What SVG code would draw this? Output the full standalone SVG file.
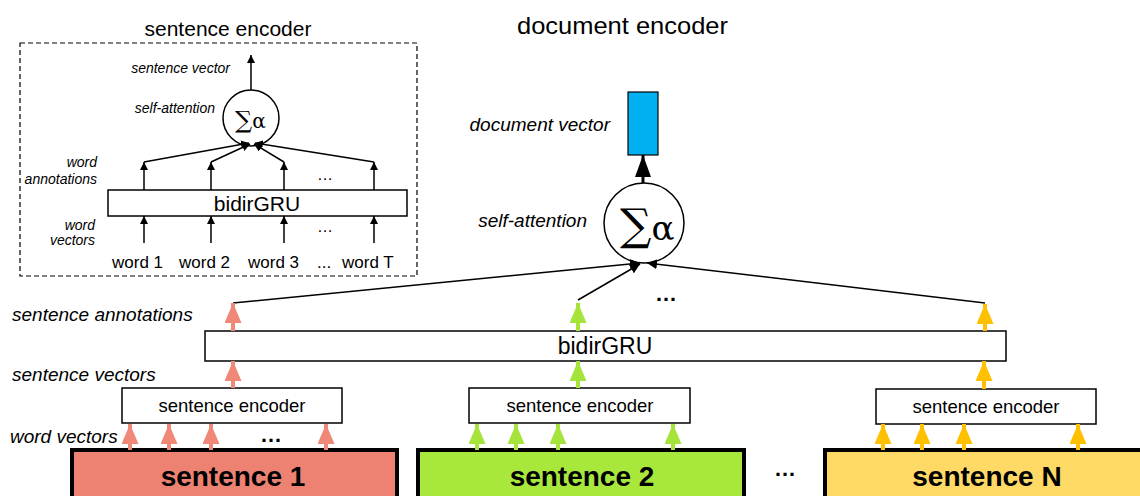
<svg xmlns="http://www.w3.org/2000/svg" width="1140" height="496" viewBox="0 0 1140 496">
<style>
.t{font-family:"Liberation Sans",Arial,sans-serif;fill:#000}
.i{font-family:"Liberation Sans",Arial,sans-serif;font-style:italic;fill:#000}
.box{fill:#fff;stroke:#000;stroke-width:1.5}
.ln{stroke:#000;stroke-width:1.5;fill:none}
.sig{font-family:"DejaVu Serif","Liberation Serif",serif;fill:#000}
.sent{stroke:#000;stroke-width:4}
.b{font-family:"Liberation Sans",Arial,sans-serif;font-weight:bold;font-size:28px;text-anchor:middle}
</style>
<defs>
<marker id="ah" viewBox="0 0 10 10" refX="10" refY="5" markerWidth="8" markerHeight="8" markerUnits="userSpaceOnUse" orient="auto"><path d="M0,0L10,5L0,10z" fill="#000"/></marker>
<marker id="ah2" viewBox="0 0 10 10" refX="10" refY="5" markerWidth="10" markerHeight="10" markerUnits="userSpaceOnUse" orient="auto"><path d="M0,0L10,5L0,10z" fill="#000"/></marker>
<marker id="big" viewBox="0 0 10 10" refX="10" refY="5" markerWidth="22" markerHeight="16" markerUnits="userSpaceOnUse" orient="auto" preserveAspectRatio="none"><path d="M0,0L10,5L0,10z" fill="#000"/></marker>
<marker id="red" viewBox="0 0 10 10" refX="10" refY="5" markerWidth="20" markerHeight="17" markerUnits="userSpaceOnUse" orient="auto" preserveAspectRatio="none"><path d="M0,0L10,5L0,10z" fill="#F08877"/></marker>
<marker id="grn" viewBox="0 0 10 10" refX="10" refY="5" markerWidth="20" markerHeight="17" markerUnits="userSpaceOnUse" orient="auto" preserveAspectRatio="none"><path d="M0,0L10,5L0,10z" fill="#A6E43C"/></marker>
<marker id="yel" viewBox="0 0 10 10" refX="10" refY="5" markerWidth="20" markerHeight="17" markerUnits="userSpaceOnUse" orient="auto" preserveAspectRatio="none"><path d="M0,0L10,5L0,10z" fill="#FFC000"/></marker>
</defs>

<!-- sentence encoder detail -->
<g id="sentence-encoder-detail">
<text class="t" x="228" y="36" font-size="21" text-anchor="middle">sentence encoder</text>
<rect x="20" y="43" width="397" height="233" fill="none" stroke="#000" stroke-width="1.2" stroke-dasharray="5,3"/>
<text class="i" x="230" y="73" font-size="14" text-anchor="end">sentence vector</text>
<text class="i" x="215" y="113" font-size="14" text-anchor="end">self-attention</text>
<text class="i" x="97" y="167" font-size="14" text-anchor="end">word</text>
<text class="i" x="97" y="184" font-size="14" text-anchor="end">annotations</text>
<text class="i" x="95" y="230" font-size="14" text-anchor="end">word</text>
<text class="i" x="95" y="245" font-size="14" text-anchor="end">vectors</text>
<text class="t" x="325" y="180" font-size="16" text-anchor="middle">…</text>
<text class="t" x="325" y="232" font-size="16" text-anchor="middle">…</text>
<text class="t" y="268" font-size="17"><tspan x="112">word 1</tspan><tspan x="179">word 2</tspan><tspan x="248">word 3</tspan><tspan x="317">...</tspan><tspan x="342">word T</tspan></text>
</g>
<g id="small-attn">
<circle cx="251" cy="118" r="28" fill="#fff" stroke="#000" stroke-width="1.5"/>
<text class="sig" x="235" y="128" font-size="24">∑<tspan font-size="20">α</tspan></text>
</g>
<g id="small-bidirgru">
<rect class="box" x="108" y="190" width="299" height="26"/>
<text class="t" x="257" y="211" font-size="21" text-anchor="middle">bidirGRU</text>
</g>

<!-- document encoder -->
<text class="t" x="517" y="34" font-size="24" textLength="211" lengthAdjust="spacingAndGlyphs">document encoder</text>
<g id="doc-vector">
<rect x="628" y="92" width="30" height="63" fill="#00B0F0" stroke="#000" stroke-width="1.2"/>
<text class="i" x="610" y="131" font-size="19" text-anchor="end">document vector</text>
</g>
<g id="doc-attn">
<circle cx="644" cy="223" r="40" fill="#fff" stroke="#000" stroke-width="1.5"/>
<text class="sig" x="620" y="240" font-size="44">∑<tspan font-size="34">α</tspan></text>
<text class="i" x="587" y="227" font-size="19" text-anchor="end">self-attention</text>
</g>
<g id="doc-bidirgru">
<rect class="box" x="205" y="331" width="801" height="30"/>
<text class="t" x="605" y="354" font-size="23" text-anchor="middle">bidirGRU</text>
</g>

<g id="labels">
<text class="i" x="12" y="321" font-size="19">sentence annotations</text>
<text class="i" x="12" y="381" font-size="19">sentence vectors</text>
<text class="i" x="10" y="443" font-size="19">word vectors</text>
<text class="t" x="666" y="301" font-size="22" font-weight="bold" text-anchor="middle">…</text>
<text class="t" x="271" y="442" font-size="22" font-weight="bold" text-anchor="middle">…</text>
<text class="t" x="785" y="476" font-size="22" font-weight="bold" text-anchor="middle">…</text>
</g>

<g id="enc1">
<rect class="box" x="122" y="388" width="220" height="35"/>
<text class="t" x="232" y="412" font-size="18.5" text-anchor="middle">sentence encoder</text>
</g>
<g id="enc2">
<rect class="box" x="469" y="388" width="221" height="35"/>
<text class="t" x="580" y="412" font-size="18.5" text-anchor="middle">sentence encoder</text>
</g>
<g id="encN">
<rect class="box" x="876" y="389" width="220" height="35"/>
<text class="t" x="986" y="413" font-size="18.5" text-anchor="middle">sentence encoder</text>
</g>

<g id="sentence1">
<rect class="sent" x="72" y="450" width="325" height="60" fill="#ED8272"/>
<text class="b" x="233" y="486">sentence 1</text>
</g>
<g id="sentence2">
<rect class="sent" x="418" y="450" width="326" height="60" fill="#A8E83C"/>
<text class="b" x="582" y="486">sentence 2</text>
</g>
<g id="sentenceN">
<rect class="sent" x="825" y="450" width="330" height="60" fill="#FFD966"/>
<text class="b" x="987" y="486">sentence N</text>
</g>

<g id="connectors">
<g class="ln" marker-end="url(#ah)">
<line x1="251" y1="90" x2="251" y2="55"/>
<line x1="144" y1="243" x2="144" y2="216"/>
<line x1="211" y1="243" x2="211" y2="216"/>
<line x1="284" y1="243" x2="284" y2="216"/>
<line x1="374" y1="243" x2="374" y2="216"/>
<line x1="144" y1="190" x2="144" y2="162"/>
<line x1="211" y1="190" x2="211" y2="162"/>
<line x1="284" y1="190" x2="284" y2="162"/>
<line x1="374" y1="190" x2="374" y2="162"/>
<line x1="144" y1="162" x2="249" y2="143"/>
<line x1="211" y1="162" x2="250" y2="144"/>
<line x1="284" y1="162" x2="254" y2="144"/>
<line x1="374" y1="162" x2="255" y2="143"/>
</g>
<line x1="643" y1="183" x2="643" y2="155" stroke="#000" stroke-width="3" marker-end="url(#big)"/>
<g class="ln" marker-end="url(#ah2)">
<line x1="233" y1="303" x2="640" y2="263"/>
<line x1="578" y1="300" x2="640" y2="264"/>
<line x1="985" y1="303" x2="647" y2="263"/>
</g>
<g stroke="#F08877" stroke-width="4" marker-end="url(#red)">
<line x1="233" y1="388" x2="233" y2="361"/>
<line x1="233" y1="331" x2="233" y2="303"/>
<line x1="130" y1="450" x2="130" y2="424"/>
<line x1="169" y1="450" x2="169" y2="424"/>
<line x1="211" y1="450" x2="211" y2="424"/>
<line x1="326" y1="450" x2="326" y2="424"/>
</g>
<g stroke="#A6E43C" stroke-width="4" marker-end="url(#grn)">
<line x1="578" y1="388" x2="578" y2="361"/>
<line x1="578" y1="331" x2="578" y2="303"/>
<line x1="477" y1="450" x2="477" y2="424"/>
<line x1="516" y1="450" x2="516" y2="424"/>
<line x1="558" y1="450" x2="558" y2="424"/>
<line x1="673" y1="450" x2="673" y2="424"/>
</g>
<g stroke="#FFC000" stroke-width="4" marker-end="url(#yel)">
<line x1="984" y1="389" x2="984" y2="361"/>
<line x1="985" y1="331" x2="985" y2="304"/>
<line x1="883" y1="450" x2="883" y2="424"/>
<line x1="922" y1="450" x2="922" y2="424"/>
<line x1="964" y1="450" x2="964" y2="424"/>
<line x1="1078" y1="450" x2="1078" y2="424"/>
</g>
</g>
</svg>
